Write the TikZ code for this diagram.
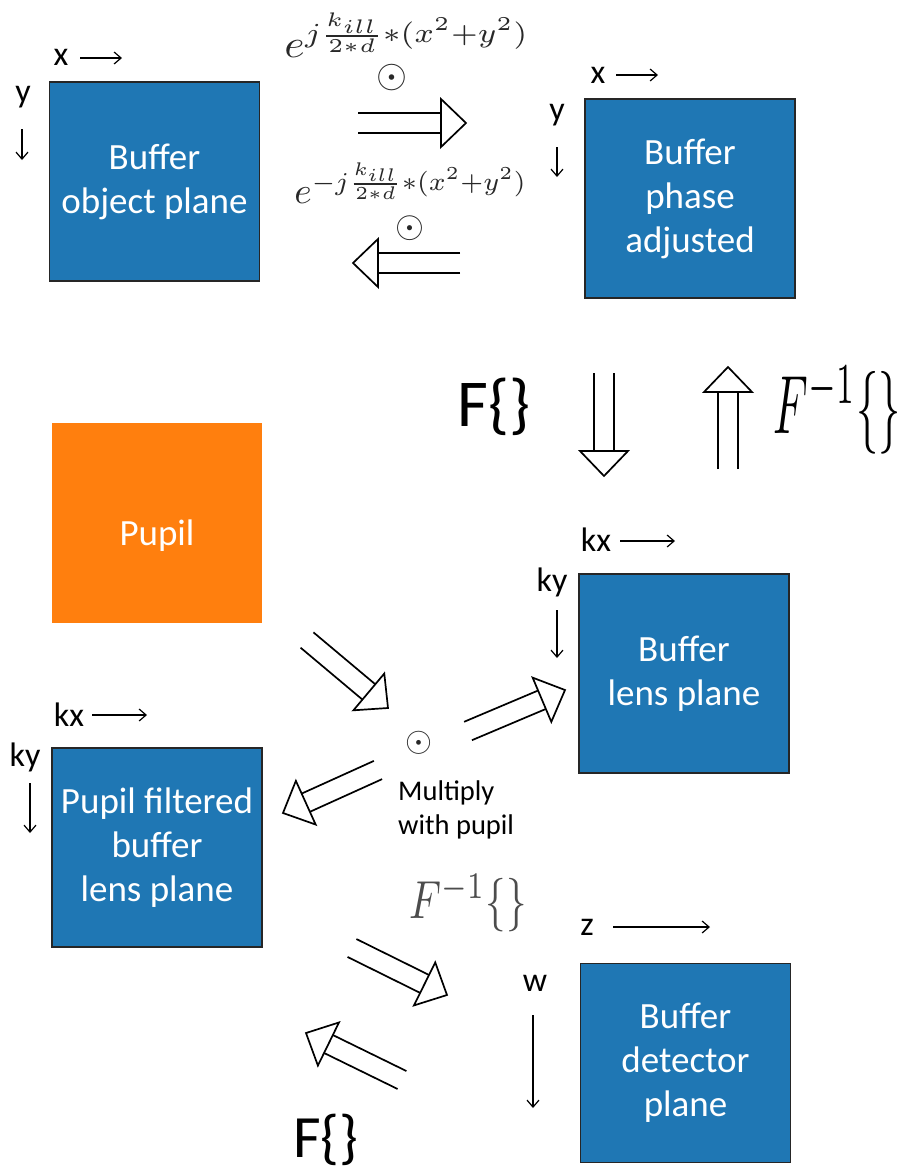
\documentclass[tikz,border=0pt]{standalone}
\usepackage{fontspec}
\setmainfont{Carlito}
\usetikzlibrary{calc,arrows.meta}

\definecolor{bufblue}{RGB}{31,119,180}
\definecolor{pupilorange}{RGB}{255,127,14}
\definecolor{mathgray}{RGB}{40,40,40}

\tikzset{
  buffer/.style={draw=black!85, line width=1.2pt, fill=bufblue,
    minimum width=210pt, minimum height=199pt, inner sep=0pt,
    text=white, align=center, font=\fontsize{37}{44}\selectfont},
  pupilbox/.style={fill=pupilorange, minimum width=210pt,
    minimum height=200pt, inner sep=0pt},
  boxtext/.style={text=white, inner sep=0pt, font=\fontsize{37}{44}\selectfont},
  axislbl/.style={font=\fontsize{34}{38}\selectfont, inner sep=0pt},
  axisarrow/.style={line width=1.2pt, -{Straight Barb[length=7pt,width=12pt]}},
  hollow/.style={line width=1.7pt, line join=miter},
  mathlbl/.style={text=mathgray, inner sep=0pt},
  odotlbl/.style={text=mathgray, inner sep=0pt},
  opname/.style={inner sep=0pt},
  note/.style={inner sep=0pt, align=left, font=\fontsize{28.5}{34}\selectfont},
}

% Double-shafted arrow with an open triangular head, from #1 (tail) to #2 (tip)
\newcommand{\hollowarrow}[2]{%
  \coordinate (hb) at ($(#2)!25pt!(#1)$);
  \draw[hollow] ($(#1)!10pt!90:(#2)$) -- ($(hb)!10pt!90:(#2)$);
  \draw[hollow] ($(#1)!10pt!-90:(#2)$) -- ($(hb)!10pt!-90:(#2)$);
  \draw[hollow] ($(hb)!24pt!90:(#2)$) -- (#2) -- ($(hb)!24pt!-90:(#2)$) -- cycle;
}

\begin{document}
\begin{tikzpicture}[x=1pt, y=-1pt]
  \useasboundingbox (0,0) rectangle (920,1171);
  \fill[white] (0,0) rectangle (920,1171);

  % ---- buffers ----
  \node[buffer] (obj)   at (154.5,181.5) {Buffer\\object plane};
  \node[buffer] (phase) at (690,198.5)   {Buffer\\phase\\adjusted};
  \node[pupilbox] (pupil) at (157,523) {};
  \node[boxtext] (pupiltext) at (157,536) {Pupil};
  \node[buffer] (lens)  at (684,673.5)   {Buffer\\lens plane};
  \node[buffer] (pf)    at (157,847.5)   {Pupil filtered\\buffer\\lens plane};
  \node[buffer] (det)   at (685.5,1063)  {Buffer\\detector\\plane};

  % ---- axis labels ----
  \node[axislbl] (objx) at (61,57) {x};
  \draw[axisarrow] (objx.center) ++(19,1) -- ++(42,0);
  \node[axislbl] (objy) at (23,97) {y};
  \draw[axisarrow] (objy.center) ++(-1,32) -- ++(0,31);

  \node[axislbl] (phasex) at (598,75) {x};
  \draw[axisarrow] (phasex.center) ++(18,0) -- ++(42,0);
  \node[axislbl] (phasey) at (557,115) {y};
  \draw[axisarrow] (phasey.center) ++(0,32) -- ++(0,30);

  \node[axislbl] (lenskx) at (596,540) {kx};
  \draw[axisarrow] (lenskx.center) ++(24,1) -- ++(55,0);
  \node[axislbl] (lensky) at (552,582) {ky};
  \draw[axisarrow] (lensky.center) ++(5,28) -- ++(0,48);

  \node[axislbl] (pfkx) at (69,715) {kx};
  \draw[axisarrow] (pfkx.center) ++(23,0) -- ++(55,0);
  \node[axislbl] (pfky) at (25,757) {ky};
  \draw[axisarrow] (pfky.center) ++(5,26) -- ++(0,50);

  \node[axislbl] (detz) at (587,927) {z};
  \draw[axisarrow] (detz.center) ++(26,0) -- ++(97,0);
  \node[axislbl] (detw) at (535,983) {w};
  \draw[axisarrow] (detw.center) ++(-2,32) -- ++(0,93);

  % ---- phase factors between object plane and phase adjusted buffer ----
  \node[mathlbl] (fwdphase) at (407,35)
    {\resizebox*{245pt}{44pt}{$e^{j\frac{k_{ill}}{2*d}*(x^2+y^2)}$}};
  \node[odotlbl] (fwdodot) at (392,78) {\resizebox{31pt}{!}{$\odot$}};
  \node[mathlbl] (bwdphase) at (411,183)
    {\resizebox*{233pt}{41pt}{$e^{-j\frac{k_{ill}}{2*d}*(x^2+y^2)}$}};
  \node[odotlbl] (bwdodot) at (410,228) {\resizebox{29pt}{!}{$\odot$}};

  \coordinate (a1s) at (358,123); \coordinate (a1e) at (466,123);
  \hollowarrow{a1s}{a1e}
  \coordinate (a2s) at (460,263); \coordinate (a2e) at (353,263);
  \hollowarrow{a2s}{a2e}

  % ---- Fourier transforms ----
  \node[opname, font=\fontsize{67}{70}\selectfont] (ft1) at (494,407) {F\{\}};
  \coordinate (a3s) at (604,373); \coordinate (a3e) at (604,476);
  \hollowarrow{a3s}{a3e}
  \coordinate (a4s) at (728,469); \coordinate (a4e) at (728,367);
  \hollowarrow{a4s}{a4e}
  \node[opname] (ift1) at (837,410) {\resizebox*{127pt}{88pt}{$F^{-1}\{\}$}};

  % ---- pupil multiplication ----
  \node[odotlbl] (mul) at (419,743) {\resizebox{27pt}{!}{$\odot$}};
  \node[note, anchor=west] (multxt) at (398,810) {Multiply\\with pupil};
  \coordinate (a5s) at (307,640); \coordinate (a5e) at (388,708);
  \hollowarrow{a5s}{a5e}
  \coordinate (a6s) at (468,731); \coordinate (a6e) at (565,690);
  \hollowarrow{a6s}{a6e}
  \coordinate (a7s) at (378,770); \coordinate (a7e) at (283,813);
  \hollowarrow{a7s}{a7e}

  % ---- propagation to and from the detector plane ----
  \node[mathlbl, text=black!70] (ift2) at (468,903) {\resizebox*{117pt}{57pt}{$F^{-1}\{\}$}};
  \coordinate (a8s) at (352,948); \coordinate (a8e) at (447,995);
  \hollowarrow{a8s}{a8e}
  \coordinate (a9s) at (402,1080); \coordinate (a9e) at (306,1033);
  \hollowarrow{a9s}{a9e}
  \node[opname, font=\fontsize{60}{64}\selectfont] (ft2) at (326,1140) {F\{\}};
\end{tikzpicture}
\end{document}
